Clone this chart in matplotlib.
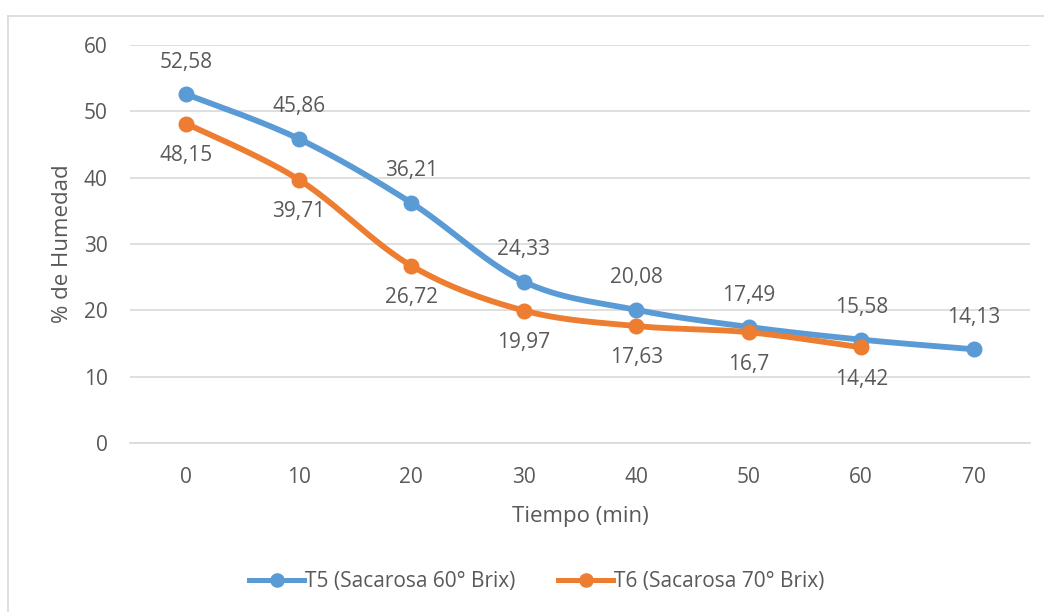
import numpy as np
import matplotlib
matplotlib.use("Agg")
import matplotlib.pyplot as plt
from matplotlib.lines import Line2D

categories = ["0", "10", "20", "30", "40", "50", "60", "70"]
t5 = [52.58, 45.86, 36.21, 24.33, 20.08, 17.49, 15.58, 14.13]
t6 = [48.15, 39.71, 26.72, 19.97, 17.63, 16.7, 14.42]
t5_name = "T5 (Sacarosa 60° Brix)"
t6_name = "T6 (Sacarosa 70° Brix)"

BLUE = "#5B9BD5"
ORANGE = "#ED7D31"
GRAY = "#595959"
plt.rcParams['font.family'] = ['Open Sans', 'DejaVu Sans']
FS = 15


def smooth(xs, ys, n=30):
    xs = np.asarray(xs, float); ys = np.asarray(ys, float)
    px, py = [], []
    m = len(xs)
    for i in range(m - 1):
        x0, y0 = xs[max(i - 1, 0)], ys[max(i - 1, 0)]
        x1, y1 = xs[i], ys[i]
        x2, y2 = xs[i + 1], ys[i + 1]
        x3, y3 = xs[min(i + 2, m - 1)], ys[min(i + 2, m - 1)]
        c1x, c1y = x1 + (x2 - x0) / 6, y1 + (y2 - y0) / 6
        c2x, c2y = x2 - (x3 - x1) / 6, y2 - (y3 - y1) / 6
        t = np.linspace(0, 1, n)
        bx = (1-t)**3*x1 + 3*(1-t)**2*t*c1x + 3*(1-t)*t**2*c2x + t**3*x2
        by = (1-t)**3*y1 + 3*(1-t)**2*t*c1y + 3*(1-t)*t**2*c2y + t**3*y2
        px.extend(bx); py.extend(by)
    return np.array(px), np.array(py)


fig = plt.figure(figsize=(10.44, 6.12), dpi=100)
# outer chart border (top and left visible)
fig.add_artist(Line2D([8/1044, 8/1044], [0, 1 - 16/612], transform=fig.transFigure, color="#D9D9D9", lw=1.2))
fig.add_artist(Line2D([8/1044, 1], [1 - 16/612, 1 - 16/612], transform=fig.transFigure, color="#D9D9D9", lw=1.2))

ax = fig.add_axes([130/1044, 1 - 443/612, 900/1044, (443 - 45)/612])
x5 = np.arange(len(t5))
x6 = np.arange(len(t6))
for xs, ys, c in [(x5, t5, BLUE), (x6, t6, ORANGE)]:
    sx, sy = smooth(xs, ys)
    ax.plot(sx, sy, color=c, lw=4.2, solid_capstyle="round", zorder=3)
    ax.plot(xs, ys, 'o', color=c, ms=10.5, zorder=4)

for x, y in zip(x5, t5):
    ax.annotate(f"{y:g}".replace(".", ","), (x, y), xytext=(0, 23), textcoords="offset points",
                ha="center", va="center", fontsize=FS, color=GRAY)
for x, y in zip(x6, t6):
    ax.annotate(f"{y:g}".replace(".", ","), (x, y), xytext=(0, -23), textcoords="offset points",
                ha="center", va="center", fontsize=FS, color=GRAY)

ax.set_xlim(-0.5, len(categories) - 0.5)
ax.set_ylim(0, 60)
ax.set_yticks(range(0, 61, 10))
ax.set_xticks(range(len(categories)))
ax.set_xticklabels(categories)
ax.grid(axis="y", color="#D9D9D9", lw=1.2)
ax.set_axisbelow(True)
for s in ["top", "right", "left"]:
    ax.spines[s].set_visible(False)
ax.spines["bottom"].set_color("#D9D9D9")
ax.spines["bottom"].set_linewidth(1.2)
ax.tick_params(length=0, labelsize=FS, labelcolor=GRAY, pad=17)
ax.tick_params(axis="y", pad=16)
ax.set_xlabel("Tiempo (min)", fontsize=16, color=GRAY, labelpad=13)
ax.set_ylabel("% de Humedad", fontsize=16, color=GRAY, labelpad=8)

handles = [Line2D([], [], color=BLUE, lw=3.6, marker='o', ms=9.5),
           Line2D([], [], color=ORANGE, lw=3.6, marker='o', ms=9.5)]
fig.legend(handles, [t5_name, t6_name], loc="center", bbox_to_anchor=(537/1044, 1 - 582/612),
           ncol=2, frameon=False, fontsize=FS, labelcolor=GRAY, handlelength=2.64,
           handletextpad=0.05, columnspacing=2.05)

fig.savefig("out.png", dpi=100)
